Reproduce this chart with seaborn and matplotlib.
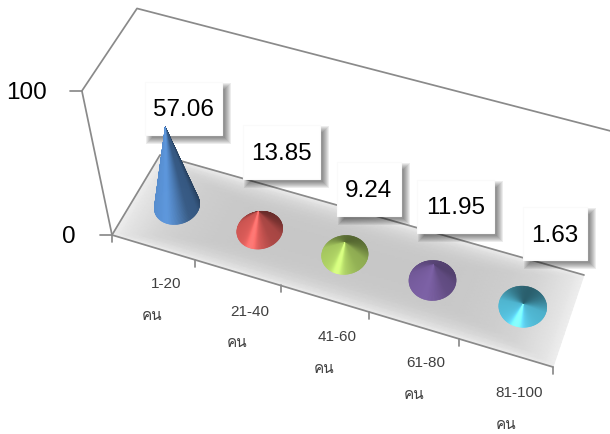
import numpy as np
import pandas as pd
import matplotlib
matplotlib.use("Agg")
import matplotlib.pyplot as plt
from matplotlib.collections import PolyCollection
from matplotlib.patches import Rectangle
import seaborn as sns

# Share of respondents per group size
ranges = ["1-20", "21-40", "41-60", "61-80", "81-100"]
unit_label = "คน"
values = [57.06, 13.85, 9.24, 11.95, 1.63]
value_ticks = [0, 100]
value_tick_right = {0: 76, 100: 47}
cone_colors = ["#4F81BD", "#C0504D", "#9BBB59", "#6C5490", "#4BACC6"]
cone_gloss = [1.0, 1.0, 0.75, 0.06, 1.0]

# Data label boxes: left, right, top, bottom on the canvas
label_boxes = [(145, 222, 82, 135), (243, 320, 125, 179), (337, 401, 162, 216),
               (417, 494, 180, 233), (523, 587, 207, 260)]
# Centres of the category text lines
range_text_xy = [(166, 284), (250, 312), (337, 337), (426, 363), (519, 393)]
unit_text_xy = [(152, 316), (237, 343), (324, 369), (414, 395), (506, 425)]

# Camera: where the plot box corners land on the canvas
floor_corners = {(0, 0): (112, 235), (1, 0): (553, 367), (1, 1): (584, 275), (0, 1): (160, 155)}
wall_corners = {(0, 0): (82, 91), (0, 1): (137, 8), (1, 1): (613, 132)}


def build_camera():
    A, b = [], []
    for (x, y), (u, v) in floor_corners.items():
        A.append([x, y, 1, 0, 0, 0, -u * x, -u * y]); b.append(u)
        A.append([0, 0, 0, x, y, 1, -v * x, -v * y]); b.append(v)
    h = np.linalg.solve(np.array(A, float), np.array(b, float))
    H = np.append(h, 1).reshape(3, 3)
    A, b = [], []
    for (x, y), (u, v) in wall_corners.items():
        n = H @ [x, y, 1]
        A.append([100, 0, -u * 100]); b.append(u * n[2] - n[0])
        A.append([0, 100, -v * 100]); b.append(v * n[2] - n[1])
    c = np.linalg.lstsq(np.array(A, float), np.array(b, float), rcond=None)[0]
    return np.column_stack([H[:, 0], H[:, 1], c, H[:, 2]])


CAMERA = build_camera()


def project(x, y, z=0.0):
    x, y, z = np.broadcast_arrays(x, y, z)
    q = CAMERA @ np.stack([x.ravel(), y.ravel(), z.ravel(), np.ones(x.size)])
    return (q[0] / q[2]).reshape(x.shape), (q[1] / q[2]).reshape(x.shape)


sns.set_theme(style="white", rc={"font.family": ["Liberation Sans", "DejaVu Sans"]})
fig = plt.figure(figsize=(6.10, 4.34), dpi=100)
ax = fig.add_axes([0, 0, 1, 1])
ax.set_xlim(0, 610)
ax.set_ylim(434, 0)
ax.axis("off")

# Floor with a soft falloff towards its edges
gx, gy = np.meshgrid(np.linspace(0, 1, 60), np.linspace(0, 1, 24))
fx, fy = project(gx, gy)
edge = np.maximum(np.abs(2 * gx - 1) ** 5, np.abs(2 * gy - 1) ** 4)
shade = 0.78 + 0.15 * edge
ax.pcolormesh(fx, fy, shade, cmap="gray", vmin=0, vmax=1, shading="gouraud", zorder=1)

# Box edges and tick marks
edges = []


def add_edge(name, xs, ys):
    edges.append(pd.DataFrame({"edge": name, "px": xs, "py": ys}))


path = [(1, 1, 100), (0, 1, 100), (0, 0, 100), (0, 0, 0), (1, 0, 0)]
px, py = project(*np.array(path, float).T)
add_edge("walls", px, py)
px, py = project(np.array([0.0, 0.0, 1.0]), np.array([0.0, 1.0, 1.0]))
add_edge("floor", px, py)
for k in range(len(ranges) + 1):
    tx, ty = project(k / len(ranges), 0.0)
    add_edge(f"xtick{k}", [float(tx), float(tx)], [float(ty), float(ty) + 7])
for v in value_ticks:
    tx, ty = project(0.0, 0.0, v)
    add_edge(f"ytick{v}", [float(tx) - 12, float(tx)], [float(ty), float(ty)])
    ax.text(value_tick_right[v], float(ty) + 2, str(v), ha="right", va="center",
            fontsize=17.5, color="black", zorder=8)
sns.lineplot(data=pd.concat(edges), x="px", y="py", units="edge", estimator=None, sort=False,
             color="#8a8a8a", linewidth=1.25, ax=ax, legend=False, zorder=2)
ax.set_xlim(0, 610)
ax.set_ylim(434, 0)

# Data label boxes with soft drop shadows
for left, right, top, bottom in label_boxes:
    for g in range(7, 0, -1):
        ax.add_patch(Rectangle((left + 8 - g, top + 8 - g), right - left + 2 * g - 6, bottom - top + 2 * g - 6,
                               facecolor="black", alpha=0.075, linewidth=0, zorder=3))
    ax.add_patch(Rectangle((left, top), right - left, bottom - top, facecolor="white",
                           edgecolor="#fafafa", linewidth=0.8, zorder=4))


def cone_shade(base, theta, value, gloss):
    """Colour of a cone facet: dark at the back, highlight streak at the front."""
    base = np.array(matplotlib.colors.to_rgb(base))
    t = np.cos(theta + np.radians(90))
    flat = np.exp(-value / 22.0)
    side = 1.0 - 0.38 * (1 - flat) * np.clip(np.cos(theta) + 0.15, 0, 1) ** 2
    back = 0.5 if gloss > 0.5 else 0.25
    body = 1.05 + 0.08 * t if t >= 0 else 1.05 + back * t
    streak = gloss * flat * (0.75 * np.clip(t, 0, 1) ** 40 + 0.25 * np.clip(t, 0, 1) ** 8)
    col = base * body * side
    return np.clip(col + streak * (np.array([1, 1, 1]) * 0.10 + base * 0.42), 0, 1)


# Cones, painted back to front so nearer facets cover farther ones
rx, ry = 0.05, 0.215
thetas = np.linspace(0, 2 * np.pi, 181)
for i, (value, color, gloss) in enumerate(zip(values, cone_colors, cone_gloss)):
    cx = (i + 0.5) / len(values)
    cy = 0.5
    bx, by = project(cx + rx * np.cos(thetas), cy + ry * np.sin(thetas))
    apex_x, apex_y = project(cx, cy, value)
    mids = 0.5 * (thetas[:-1] + thetas[1:])
    order = np.argsort(-np.sin(mids))
    polys = [[(float(apex_x), float(apex_y)), (bx[j], by[j]), (bx[j + 1], by[j + 1])] for j in order]
    facecolors = [cone_shade(color, mids[j], value, gloss) for j in order]
    ax.add_collection(PolyCollection(polys, facecolors=facecolors, edgecolors=facecolors,
                                     linewidths=0.4, zorder=5))

# Text
for (left, right, top, bottom), value in zip(label_boxes, values):
    ax.text((left + right) / 2, (top + bottom) / 2 + 2, f"{value:.2f}", ha="center", va="center",
            fontsize=17.5, color="black", zorder=8)
for name, (x1, y1), (x2, y2) in zip(ranges, range_text_xy, unit_text_xy):
    ax.text(x1, y1, name, ha="center", va="center", fontsize=11, color="#404040", zorder=8)
    ax.text(x2, y2, unit_label, ha="center", va="center", fontsize=11, color="#404040",
            family=["Loma", "DejaVu Sans"], zorder=8)

fig.savefig("out.png", dpi=100)
